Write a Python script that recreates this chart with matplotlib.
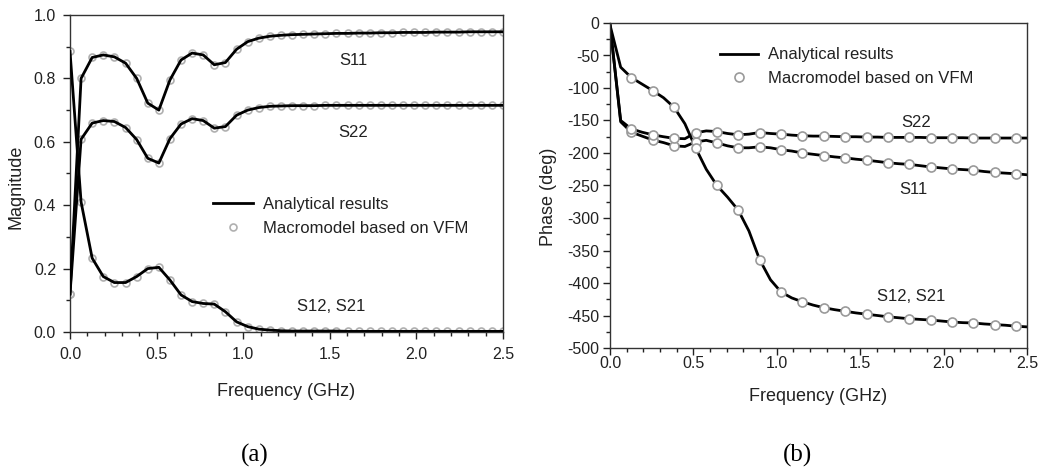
import matplotlib
matplotlib.use('Agg')
import matplotlib.pyplot as plt
from matplotlib.ticker import MultipleLocator, FormatStrFormatter

plt.rcParams['font.family'] = ['Liberation Sans', 'DejaVu Sans']
plt.rcParams['axes.unicode_minus'] = False

# ---------------- data ----------------
freq = [0.000, 0.064, 0.128, 0.192, 0.256, 0.321, 0.385, 0.449, 0.513, 0.577,
        0.641, 0.705, 0.769, 0.833, 0.897, 0.962, 1.026, 1.090, 1.154, 1.218,
        1.282, 1.346, 1.410, 1.474, 1.538, 1.603, 1.667, 1.731, 1.795, 1.859,
        1.923, 1.987, 2.051, 2.115, 2.179, 2.244, 2.308, 2.372, 2.436, 2.500]

mag_s11 = [0.12, 0.80, 0.866, 0.874, 0.868, 0.848, 0.80, 0.722, 0.70, 0.795,
           0.858, 0.880, 0.874, 0.843, 0.850, 0.892, 0.916, 0.927, 0.933, 0.936,
           0.938, 0.939, 0.940, 0.941, 0.942, 0.942, 0.943, 0.943, 0.944, 0.944,
           0.945, 0.945, 0.945, 0.946, 0.946, 0.946, 0.947, 0.947, 0.947, 0.947]

mag_s22 = [0.12, 0.608, 0.659, 0.667, 0.664, 0.645, 0.607, 0.548, 0.533, 0.610,
           0.656, 0.673, 0.667, 0.643, 0.648, 0.684, 0.700, 0.708, 0.712, 0.713,
           0.714, 0.714, 0.714, 0.715, 0.715, 0.715, 0.715, 0.715, 0.715, 0.715,
           0.715, 0.715, 0.715, 0.715, 0.715, 0.715, 0.715, 0.715, 0.715, 0.715]

mag_s12 = [0.885, 0.41, 0.233, 0.175, 0.156, 0.156, 0.175, 0.200, 0.204, 0.164,
           0.117, 0.096, 0.090, 0.088, 0.064, 0.032, 0.017, 0.009, 0.006, 0.004,
           0.003, 0.003, 0.003, 0.003, 0.003, 0.002, 0.002, 0.002, 0.002, 0.002,
           0.002, 0.002, 0.002, 0.002, 0.002, 0.002, 0.002, 0.002, 0.002, 0.002]

ph_s11 = [-3, -152, -168, -174, -180, -184, -189, -190, -183, -180.5,
          -184.5, -189, -192, -192, -190.5, -192, -195, -197, -200, -202,
          -204, -206, -207.5, -209.5, -211, -213, -215, -216.5, -217.5, -219.5,
          -221.5, -223, -224.5, -225.5, -226.5, -228.5, -230, -231, -232, -233.5]

ph_s22 = [-3, -150, -163, -168, -172, -175, -177.5, -178, -169, -166,
          -167, -170, -172, -171, -168.5, -170, -171, -172.5, -173.5, -174,
          -174, -174.5, -175, -175, -175.5, -175.5, -176, -176, -176, -176,
          -176.5, -176.5, -176.5, -176.5, -177, -177, -177, -177, -177, -177]

ph_s12 = [-3, -68, -84, -94, -104, -115, -130, -155, -192, -225,
          -250, -268, -288, -320, -364, -395, -414, -423, -429, -434,
          -438, -441, -443.5, -446, -448, -450, -452, -453.5, -455, -456,
          -457, -458.5, -460, -461, -461.5, -463, -464, -465, -466.5, -467.5]

legend_labels = ['Analytical results', 'Macromodel based on VFM']

# ---------------- figure ----------------
W, H = 1057, 473
fig = plt.figure(figsize=(W / 100, H / 100), dpi=100)
ax1 = fig.add_axes([70 / W, 1 - 332 / H, 433 / W, 317 / H])
ax2 = fig.add_axes([610 / W, 1 - 348 / H, 417 / W, 325 / H])

txt = '#222222'
lw = 2.0
tls = 11.5

# ---- (a) magnitude ----
first = True
for vals in (mag_s11, mag_s22, mag_s12):
    ln, = ax1.plot(freq, vals, color='black', lw=lw, zorder=3)
    mk, = ax1.plot(freq, vals, 'o', ms=5, mfc='none', mec='#b0b0b0', mew=1.2,
                   zorder=2)
    if first:
        h1 = [ln, mk]
        first = False

ax1.set_xlim(0, 2.5)
ax1.set_ylim(0, 1.0)
ax1.xaxis.set_major_locator(MultipleLocator(0.5))
ax1.xaxis.set_minor_locator(MultipleLocator(0.1))
ax1.yaxis.set_major_locator(MultipleLocator(0.2))
ax1.yaxis.set_minor_locator(MultipleLocator(0.1))
ax1.xaxis.set_major_formatter(FormatStrFormatter('%.1f'))
ax1.yaxis.set_major_formatter(FormatStrFormatter('%.1f'))
ax1.tick_params(axis='x', which='major', direction='out', length=5, width=1,
                labelsize=tls, pad=6, colors=txt)
ax1.tick_params(axis='y', which='major', direction='out', length=5, width=1,
                labelsize=tls, pad=5, colors=txt)
ax1.tick_params(which='minor', direction='out', length=3, width=1, colors=txt)
ax1.set_xlabel('Frequency (GHz)', fontsize=13, color=txt)
ax1.set_ylabel('Magnitude', fontsize=13, color=txt)
ax1.xaxis.set_label_coords(0.5, -0.161)
ax1.yaxis.set_label_coords(-0.104, 0.457)

ax1.text(1.634, 0.858, 'S11', fontsize=12, color=txt, ha='center', va='center')
ax1.text(1.634, 0.628, 'S22', fontsize=12, color=txt, ha='center', va='center')
ax1.text(1.507, 0.079, 'S12, S21', fontsize=12, color=txt, ha='center',
         va='center')

ax1.legend(h1, legend_labels, loc='upper left', bbox_to_anchor=(0.33, 0.425),
           frameon=False, fontsize=12, handlelength=2.4, handletextpad=0.6,
           labelspacing=0.5, borderpad=0, borderaxespad=0, labelcolor=txt)

# ---- (b) phase ----
first = True
for vals in (ph_s11, ph_s22, ph_s12):
    ln, = ax2.plot(freq, vals, color='black', lw=lw, zorder=2)
    mk, = ax2.plot(freq[2::2], vals[2::2], 'o', ms=6.5, mfc='white',
                   mec='#9a9a9a', mew=1.2, zorder=3)
    if first:
        h2 = [ln, mk]
        first = False

ax2.set_xlim(0, 2.5)
ax2.set_ylim(-500, 0)
ax2.xaxis.set_major_locator(MultipleLocator(0.5))
ax2.xaxis.set_minor_locator(MultipleLocator(0.1))
ax2.yaxis.set_major_locator(MultipleLocator(50))
ax2.yaxis.set_minor_locator(MultipleLocator(25))
ax2.xaxis.set_major_formatter(FormatStrFormatter('%.1f'))
ax2.yaxis.set_major_formatter(FormatStrFormatter('%d'))
ax2.tick_params(axis='x', which='major', direction='out', length=5, width=1,
                labelsize=tls, pad=1, colors=txt)
ax2.tick_params(axis='y', which='major', direction='out', length=5, width=1,
                labelsize=tls, pad=3, colors=txt)
ax2.tick_params(which='minor', direction='out', length=3, width=1, colors=txt)
ax2.set_xlabel('Frequency (GHz)', fontsize=13, color=txt)
ax2.set_ylabel('Phase (deg)', fontsize=13, color=txt)
ax2.xaxis.set_label_coords(0.5, -0.123)
ax2.yaxis.set_label_coords(-0.127, 0.465)

ax2.text(1.837, -153, 'S22', fontsize=12, color=txt, ha='center', va='center')
ax2.text(1.82, -256, 'S11', fontsize=12, color=txt, ha='center', va='center')
ax2.text(1.807, -421.5, 'S12, S21', fontsize=12, color=txt, ha='center',
         va='center')

ax2.legend(h2, legend_labels, loc='upper left', bbox_to_anchor=(0.264, 0.925),
           frameon=False, fontsize=12, handlelength=2.3, handletextpad=0.6,
           labelspacing=0.5, borderpad=0, borderaxespad=0, labelcolor=txt)

for ax in (ax1, ax2):
    for s in ax.spines.values():
        s.set_linewidth(1.0)
        s.set_color('#333333')

fig.text(255 / W, 1 - 455 / H, '(a)', fontsize=18, family='Liberation Serif',
         ha='center', va='center', color='black')
fig.text(798 / W, 1 - 455 / H, '(b)', fontsize=18, family='Liberation Serif',
         ha='center', va='center', color='black')

fig.savefig('out.png', dpi=100, facecolor='white')
